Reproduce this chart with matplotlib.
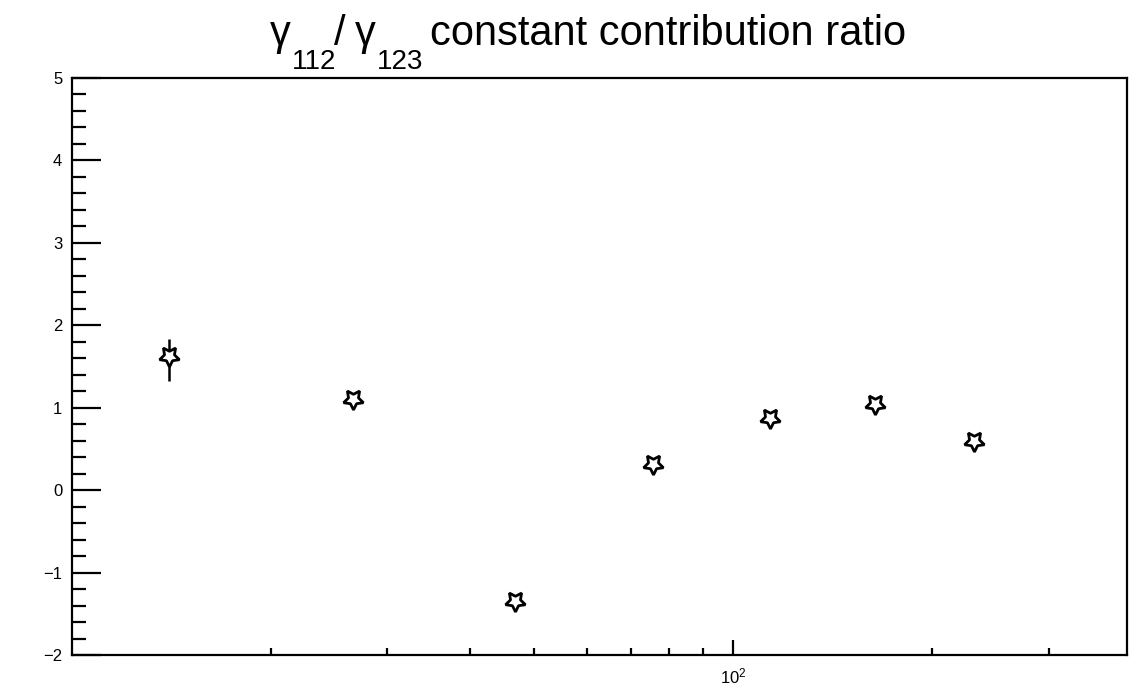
import numpy as np
import matplotlib
matplotlib.use("Agg")
import matplotlib.pyplot as plt
from matplotlib.ticker import FixedLocator, MultipleLocator, NullFormatter, FixedFormatter, FuncFormatter

plt.rcParams['font.family'] = ['Liberation Sans', 'DejaVu Sans']
plt.rcParams['mathtext.fontset'] = 'custom'
plt.rcParams['mathtext.rm'] = 'Liberation Sans'
plt.rcParams['mathtext.it'] = 'Liberation Sans'
plt.rcParams['mathtext.sf'] = 'Liberation Sans'

# data
x_vals = [14.0, 26.6, 46.7, 75.5, 113.7, 163.8, 231.2]
y_vals = [1.63, 1.10, -1.35, 0.32, 0.87, 1.05, 0.60]
y_err_low = [0.30, 0.05, 0.05, 0.05, 0.05, 0.05, 0.05]
y_err_high = [0.20, 0.05, 0.05, 0.05, 0.05, 0.05, 0.05]
x_major = [100]
x_major_labels = [r'$10^{2}$']
x_minor = [20, 30, 40, 50, 60, 70, 80, 90, 200, 300]
# title pieces: (text, is_subscript)
title_pieces = [('\u03b3', False), ('112', True), ('/', False), ('\u03b3', False),
                ('123', True), ('constant contribution ratio', False)]

W, H = 1137, 693
fig = plt.figure(figsize=(W / 100, H / 100), dpi=100)
L, R, T, B = 72, 1127, 78, 655
ax = fig.add_axes([L / W, 1 - B / H, (R - L) / W, (B - T) / H])
ax.set_xscale('log')
ax.set_xlim(10, 394)
ax.set_ylim(-2, 5)

ax.errorbar(x_vals, y_vals, yerr=[y_err_low, y_err_high], fmt='none', ecolor='black',
            elinewidth=1.8, capsize=0)
ax.plot(x_vals, y_vals, linestyle='none', marker=(5, 1, 180), markersize=15,
        markerfacecolor='white', markeredgecolor='black', markeredgewidth=2.0)

# y axis ticks
ax.yaxis.set_major_locator(MultipleLocator(1))
ax.yaxis.set_minor_locator(MultipleLocator(0.2))
ax.yaxis.set_major_formatter(FuncFormatter(lambda v, p: ('\u2212%d' % -round(v)) if v < 0 else '%d' % round(v)))
ax.tick_params(axis='y', which='major', direction='in', length=21, width=1.6, labelsize=12, pad=7)
ax.tick_params(axis='y', which='minor', direction='in', length=10, width=1.6)

# x axis ticks
ax.xaxis.set_major_locator(FixedLocator(x_major))
ax.xaxis.set_major_formatter(FixedFormatter(x_major_labels))
ax.xaxis.set_minor_locator(FixedLocator(x_minor))
ax.xaxis.set_minor_formatter(NullFormatter())
ax.tick_params(axis='x', which='major', direction='in', length=11, width=1.6, labelsize=12, pad=8)
ax.tick_params(axis='x', which='minor', direction='in', length=5, width=1.6)

for s in ax.spines.values():
    s.set_linewidth(1.6)

# title composed ROOT-style with lowered subscripts
big, small = 30, 20
x_pos = [270, 292, 334, 355, 377, 430]
for (txt, sub), xp in zip(title_pieces, x_pos):
    yb = 69 if sub else 45
    fig.text(xp / W, 1 - yb / H, txt, fontsize=small if sub else big, ha='left', va='baseline')

fig.savefig('out.png', dpi=100)
